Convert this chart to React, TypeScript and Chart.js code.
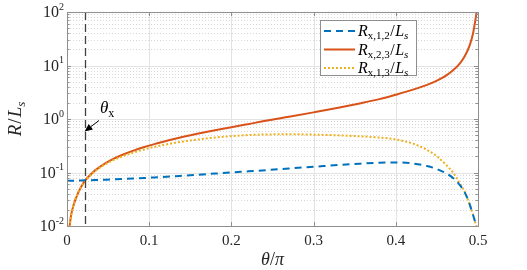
import React, { useEffect, useRef } from "react";
import { Chart, registerables } from "chart.js";

Chart.register(...registerables);

// ---------- data ----------
const thetaOverPi = [
  0, 0.003, 0.005, 0.0085, 0.013, 0.017, 0.022, 0.03, 0.037, 0.047, 0.057, 0.07, 0.08, 0.094,
  0.11, 0.125, 0.1415, 0.16, 0.18, 0.2, 0.22, 0.247, 0.27, 0.3, 0.33, 0.356, 0.38, 0.4, 0.42,
  0.438, 0.45, 0.462, 0.47, 0.478, 0.484, 0.49, 0.494, 0.4984,
];
const rX12 = [
  0.07, 0.07, 0.07, 0.0703, 0.0706, 0.0709, 0.0713, 0.072, 0.0726, 0.0735, 0.0745, 0.076, 0.0772, 0.079,
  0.0815, 0.084, 0.0872, 0.091, 0.0955, 0.1, 0.105, 0.112, 0.119, 0.128, 0.138, 0.146, 0.152, 0.154, 0.148,
  0.132, 0.116, 0.095, 0.078, 0.058, 0.042, 0.025, 0.016, 0.0095,
];
const rX23 = [
  null, 0.0095, 0.016, 0.026, 0.04, 0.053, 0.071, 0.096, 0.118, 0.15, 0.182, 0.222, 0.254, 0.3,
  0.352, 0.405, 0.465, 0.535, 0.615, 0.7, 0.8, 0.96, 1.1, 1.33, 1.62, 1.95, 2.35, 2.85, 3.5,
  4.35, 5.2, 6.6, 8.2, 11, 15, 24, 40, 100,
];
const rX13 = [
  null, 0.0095, 0.0157, 0.0265, 0.0405, 0.053, 0.069, 0.093, 0.114, 0.144, 0.172, 0.208, 0.234, 0.27,
  0.31, 0.345, 0.38, 0.415, 0.45, 0.478, 0.5, 0.515, 0.52, 0.51, 0.495, 0.475, 0.45, 0.415, 0.35,
  0.265, 0.2, 0.135, 0.098, 0.062, 0.043, 0.025, 0.016, 0.0095,
];
const xTickValues = [0, 0.1, 0.2, 0.3, 0.4, 0.5];
const xTickLabels = ["0", "0.1", "0.2", "0.3", "0.4", "0.5"];
const yTickExponents = [-2, -1, 0, 1, 2];
const yTickLabels = ["-2", "-1", "0", "1", "2"];
const thetaX = 0.022;
const seriesSubscripts = ["x,1,2", "x,2,3", "x,1,3"];
const seriesColors = ["#0072BD", "#D95319", "#EDB120"];
const seriesDashes = [[7, 5], [], [2, 2]];

const SERIF = '"Liberation Serif", "Times New Roman", serif';

type Part = { t: string; font: string; dy: number; gap?: number };
function richWidth(ctx: CanvasRenderingContext2D, parts: Part[]) {
  let w = 0;
  for (const p of parts) {
    ctx.font = p.font;
    w += ctx.measureText(p.t).width + (p.gap || 0);
  }
  return w;
}
function drawRich(ctx: CanvasRenderingContext2D, parts: Part[], x: number, y: number) {
  for (const p of parts) {
    ctx.font = p.font;
    ctx.fillText(p.t, x, y + p.dy);
    x += ctx.measureText(p.t).width + (p.gap || 0);
  }
  return x;
}

const decor = {
  id: "decor",
  beforeDatasetsDraw(chart: any) {
    const { ctx, chartArea: a, scales } = chart;
    const x = scales.x;
    const y = scales.y;
    ctx.save();
    // minor grid (y only)
    ctx.strokeStyle = "#d6d6d6";
    ctx.lineWidth = 1;
    ctx.setLineDash([1, 2]);
    for (let e = -2; e < 2; e++) {
      for (let m = 2; m <= 9; m++) {
        const py = Math.round(y.getPixelForValue(m * Math.pow(10, e))) + 0.5;
        ctx.beginPath();
        ctx.moveTo(a.left, py);
        ctx.lineTo(a.right, py);
        ctx.stroke();
      }
    }
    // major grid
    ctx.setLineDash([]);
    ctx.strokeStyle = "#e3e3e3";
    for (const e of yTickExponents) {
      const py = Math.round(y.getPixelForValue(Math.pow(10, e))) + 0.5;
      ctx.beginPath();
      ctx.moveTo(a.left, py);
      ctx.lineTo(a.right, py);
      ctx.stroke();
    }
    for (const v of xTickValues) {
      const px = Math.round(x.getPixelForValue(v)) + 0.5;
      ctx.beginPath();
      ctx.moveTo(px, a.top);
      ctx.lineTo(px, a.bottom);
      ctx.stroke();
    }
    ctx.restore();
  },
  afterDatasetsDraw(chart: any) {
    const { ctx, chartArea: a, scales } = chart;
    const x = scales.x;
    const y = scales.y;
    ctx.save();
    // theta_x dashed line
    const tx = Math.round(x.getPixelForValue(thetaX)) + 0.5;
    ctx.strokeStyle = "#404040";
    ctx.lineWidth = 1.3;
    ctx.setLineDash([8, 4]);
    ctx.beginPath();
    ctx.moveTo(tx, a.top);
    ctx.lineTo(tx, a.bottom);
    ctx.stroke();
    ctx.setLineDash([]);

    // box and ticks
    const axisColor = "#8f8f8f";
    ctx.strokeStyle = axisColor;
    ctx.lineWidth = 1;
    ctx.strokeRect(Math.round(a.left) + 0.5, Math.round(a.top) + 0.5, Math.round(a.right - a.left), Math.round(a.bottom - a.top));
    ctx.beginPath();
    for (const v of xTickValues) {
      const px = Math.round(x.getPixelForValue(v)) + 0.5;
      ctx.moveTo(px, a.bottom);
      ctx.lineTo(px, a.bottom - 4);
      ctx.moveTo(px, a.top);
      ctx.lineTo(px, a.top + 4);
    }
    for (const e of yTickExponents) {
      const py = Math.round(y.getPixelForValue(Math.pow(10, e))) + 0.5;
      ctx.moveTo(a.left, py);
      ctx.lineTo(a.left + 4, py);
      ctx.moveTo(a.right, py);
      ctx.lineTo(a.right - 4, py);
    }
    for (let e = -2; e < 2; e++) {
      for (let m = 2; m <= 9; m++) {
        const py = Math.round(y.getPixelForValue(m * Math.pow(10, e))) + 0.5;
        ctx.moveTo(a.left, py);
        ctx.lineTo(a.left + 2.5, py);
        ctx.moveTo(a.right, py);
        ctx.lineTo(a.right - 2.5, py);
      }
    }
    ctx.stroke();

    // tick labels
    ctx.fillStyle = "#262626";
    ctx.textBaseline = "middle";
    ctx.textAlign = "center";
    ctx.font = `15px ${SERIF}`;
    xTickValues.forEach((v, i) => {
      ctx.fillText(xTickLabels[i], x.getPixelForValue(v), a.bottom + 15);
    });
    ctx.textAlign = "left";
    yTickExponents.forEach((e, i) => {
      const py = y.getPixelForValue(Math.pow(10, e));
      const parts: Part[] = [
        { t: "10", font: `16px ${SERIF}`, dy: 1 },
        { t: yTickLabels[i], font: `10px ${SERIF}`, dy: -5 },
      ];
      const w = richWidth(ctx, parts);
      drawRich(ctx, parts, a.left - 3 - w, py);
    });

    // axis titles
    ctx.textBaseline = "alphabetic";
    const xt: Part[] = [
      { t: "θ", font: `italic 18px ${SERIF}`, dy: 0 },
      { t: "/", font: `18px ${SERIF}`, dy: 0 },
      { t: "π", font: `italic 18px ${SERIF}`, dy: 0 },
    ];
    const xw = richWidth(ctx, xt);
    drawRich(ctx, xt, (a.left + a.right) / 2 - xw / 2, 265);

    const yt: Part[] = [
      { t: "R", font: `italic 19px ${SERIF}`, dy: 0, gap: 1 },
      { t: "/", font: `19px ${SERIF}`, dy: 0, gap: 1 },
      { t: "L", font: `italic 19px ${SERIF}`, dy: 0 },
      { t: "s", font: `italic 13px ${SERIF}`, dy: 4 },
    ];
    ctx.save();
    ctx.translate(21, (a.top + a.bottom) / 2);
    ctx.rotate(-Math.PI / 2);
    const yw = richWidth(ctx, yt);
    drawRich(ctx, yt, -yw / 2, 0);
    ctx.restore();

    // annotation theta_x with arrow
    ctx.fillStyle = "#000";
    drawRich(
      ctx,
      [
        { t: "θ", font: `italic 17px ${SERIF}`, dy: 0 },
        { t: "x", font: `12px ${SERIF}`, dy: 4 },
      ],
      100,
      113
    );
    const sx = 99, sy = 120.5, ex = 84.5, ey = 131.5;
    const dx = ex - sx, dyy = ey - sy;
    const len = Math.hypot(dx, dyy);
    const ux = dx / len, uy = dyy / len;
    const hl = 8, hw = 3.5;
    ctx.strokeStyle = "#000";
    ctx.lineWidth = 1;
    ctx.beginPath();
    ctx.moveTo(sx, sy);
    ctx.lineTo(ex - ux * hl, ey - uy * hl);
    ctx.stroke();
    ctx.beginPath();
    ctx.moveTo(ex, ey);
    ctx.lineTo(ex - ux * hl - uy * hw, ey - uy * hl + ux * hw);
    ctx.lineTo(ex - ux * hl + uy * hw, ey - uy * hl - ux * hw);
    ctx.closePath();
    ctx.fill();

    // legend
    const lx = 320.5, ly = 20.5, lw = 96, lh = 55;
    ctx.fillStyle = "#ffffff";
    ctx.fillRect(lx, ly, lw, lh);
    ctx.strokeStyle = "#8f8f8f";
    ctx.lineWidth = 1;
    ctx.strokeRect(lx, ly, lw, lh);
    const rows = [31, 49.5, 68];
    rows.forEach((ry, i) => {
      ctx.strokeStyle = seriesColors[i];
      ctx.lineWidth = 2;
      ctx.setLineDash(seriesDashes[i]);
      ctx.beginPath();
      ctx.moveTo(324, ry);
      ctx.lineTo(355, ry);
      ctx.stroke();
      ctx.setLineDash([]);
      ctx.fillStyle = "#000";
      ctx.textBaseline = "alphabetic";
      drawRich(
        ctx,
        [
          { t: "R", font: `italic 16px ${SERIF}`, dy: 0 },
          { t: seriesSubscripts[i], font: `11px ${SERIF}`, dy: 3, gap: 0.5 },
          { t: "/", font: `16px ${SERIF}`, dy: 0, gap: 0.5 },
          { t: "L", font: `italic 16px ${SERIF}`, dy: 0 },
          { t: "s", font: `italic 11px ${SERIF}`, dy: 3 },
        ],
        358,
        ry + 5
      );
    });
    ctx.restore();
  },
};

export default function App() {
  const ref = useRef<HTMLCanvasElement | null>(null);
  useEffect(() => {
    if (!ref.current) return;
    const mk = (vals: (number | null)[]) => thetaOverPi.map((t, i) => ({ x: t, y: vals[i] }));
    const chart = new Chart(ref.current, {
      type: "line",
      data: {
        datasets: [
          {
            label: "R_x,1,2/L_s",
            data: mk(rX12),
            borderColor: seriesColors[0],
            borderWidth: 2,
            borderDash: seriesDashes[0],
            pointRadius: 0,
            fill: false,
            cubicInterpolationMode: "monotone",
          },
          {
            label: "R_x,1,3/L_s",
            data: mk(rX13),
            borderColor: seriesColors[2],
            borderWidth: 2,
            borderDash: seriesDashes[2],
            pointRadius: 0,
            fill: false,
            cubicInterpolationMode: "monotone",
          },
          {
            label: "R_x,2,3/L_s",
            data: mk(rX23),
            borderColor: seriesColors[1],
            borderWidth: 2,
            pointRadius: 0,
            fill: false,
            cubicInterpolationMode: "monotone",
          },
        ],
      } as any,
      options: {
        animation: false,
        responsive: false,
        maintainAspectRatio: false,
        devicePixelRatio: 1,
        layout: { padding: { top: 12, right: 49, left: 0, bottom: 0 } },
        plugins: { legend: { display: false }, tooltip: { enabled: false } },
        scales: {
          x: {
            type: "linear",
            min: 0,
            max: 0.5,
            ticks: { display: false },
            grid: { display: false },
            border: { display: false },
            afterFit: (s: any) => {
              s.height = 44;
            },
          },
          y: {
            type: "logarithmic",
            min: 0.01,
            max: 100,
            ticks: { display: false },
            grid: { display: false },
            border: { display: false },
            afterFit: (s: any) => {
              s.width = 67;
            },
          },
        },
      } as any,
      plugins: [decor],
    });
    return () => chart.destroy();
  }, []);
  return (
    <div style={{ position: "fixed", left: 0, top: 0, width: 527, height: 270, background: "#fff" }}>
      <canvas ref={ref} width={527} height={270} style={{ display: "block" }} />
    </div>
  );
}
